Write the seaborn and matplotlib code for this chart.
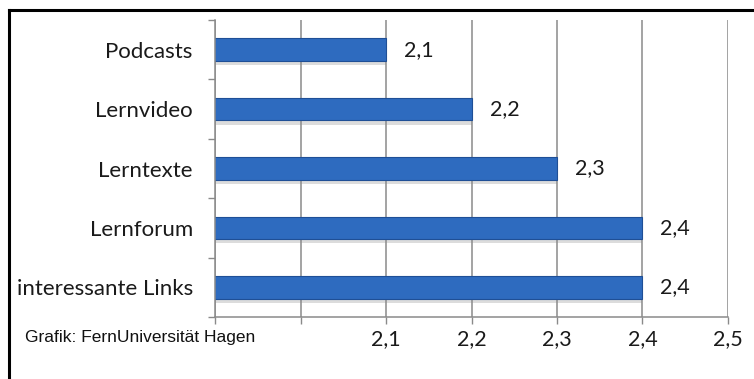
import matplotlib
matplotlib.use("Agg")
import matplotlib.pyplot as plt
import matplotlib.patheffects as pe
from matplotlib.lines import Line2D
import seaborn as sns
import pandas as pd

# Data
categories = ["Podcasts", "Lernvideo", "Lerntexte", "Lernforum", "interessante Links"]
values = [2.1, 2.2, 2.3, 2.4, 2.4]
value_labels = ["2,1", "2,2", "2,3", "2,4", "2,4"]
x_ticks = [1.9, 2.0, 2.1, 2.2, 2.3, 2.4, 2.5]
x_tick_labels = ["", "", "2,1", "2,2", "2,3", "2,4", "2,5"]
source_note = "Grafik: FernUniversität Hagen"

df = pd.DataFrame({"Kategorie": categories, "Wert": values})

sns.set_theme(style="white")
plt.rcParams["font.family"] = ["Lato", "DejaVu Sans"]

W, H = 754, 379
fig = plt.figure(figsize=(W / 100, H / 100), dpi=100)
fig.patch.set_facecolor("white")

# axes box in pixel terms: x 215..728, y 20..317 (from top)
ax = fig.add_axes([215 / W, (H - 317) / H, (728 - 215) / W, (317 - 20) / H])

sns.barplot(data=df, x="Wert", y="Kategorie", orient="h", ax=ax,
            color="#2e6bbf", width=0.38, saturation=1)

for patch in ax.patches:
    patch.set_edgecolor("#1f4f96")
    patch.set_linewidth(0.8)
    patch.set_path_effects([pe.SimplePatchShadow(offset=(0, -3), shadow_rgbFace="#8c8c8c", alpha=0.3),
                            pe.Normal()])

ax.set_xlim(1.9, 2.5)
ax.set_ylim(len(categories) - 0.5, -0.5)

# grid lines
ax.set_xticks(x_ticks)
ax.set_xticklabels(x_tick_labels)
ax.grid(axis="x", color="#8a8a8a", linewidth=1.1)
ax.grid(axis="y", visible=False)
ax.set_axisbelow(True)

# y ticks at category boundaries
ax.set_yticks(range(len(categories)))
ax.set_yticklabels(categories)
ax.set_yticks([i - 0.5 for i in range(len(categories) + 1)], minor=True)
ax.tick_params(axis="y", which="major", length=0, pad=16, labelsize=16, labelcolor="#1a1a1a")
ax.tick_params(axis="y", which="minor", length=5, width=1.0, color="#8a8a8a", left=True)
ax.tick_params(axis="x", which="major", length=5, width=1.0, color="#8a8a8a", bottom=True,
               pad=4, labelsize=15.5, labelcolor="#1a1a1a")

for side in ["top", "right"]:
    ax.spines[side].set_visible(False)
for side in ["left", "bottom"]:
    ax.spines[side].set_color("#8a8a8a")
    ax.spines[side].set_linewidth(1.1)

ax.set_xlabel("")
ax.set_ylabel("")

# value labels to the right of each bar
for i, (v, lab) in enumerate(zip(values, value_labels)):
    ax.annotate(lab, xy=(v, i), xytext=(18, 0), textcoords="offset pixels",
                ha="left", va="center", fontsize=15.5, color="#1a1a1a")

# source note
fig.text(25 / W, (H - 342) / H, source_note, family=["Liberation Sans", "DejaVu Sans"],
         fontsize=12.5, color="#111111", ha="left", va="baseline")

# frame lines (left and top)
fig.add_artist(Line2D([8.5 / W, 8.5 / W], [0, (H - 10) / H], color="black", linewidth=2.2,
                      transform=fig.transFigure, solid_capstyle="projecting"))
fig.add_artist(Line2D([8.5 / W, 1], [(H - 10) / H, (H - 10) / H], color="black", linewidth=2.2,
                      transform=fig.transFigure, solid_capstyle="projecting"))

fig.savefig("out.png", dpi=100)
